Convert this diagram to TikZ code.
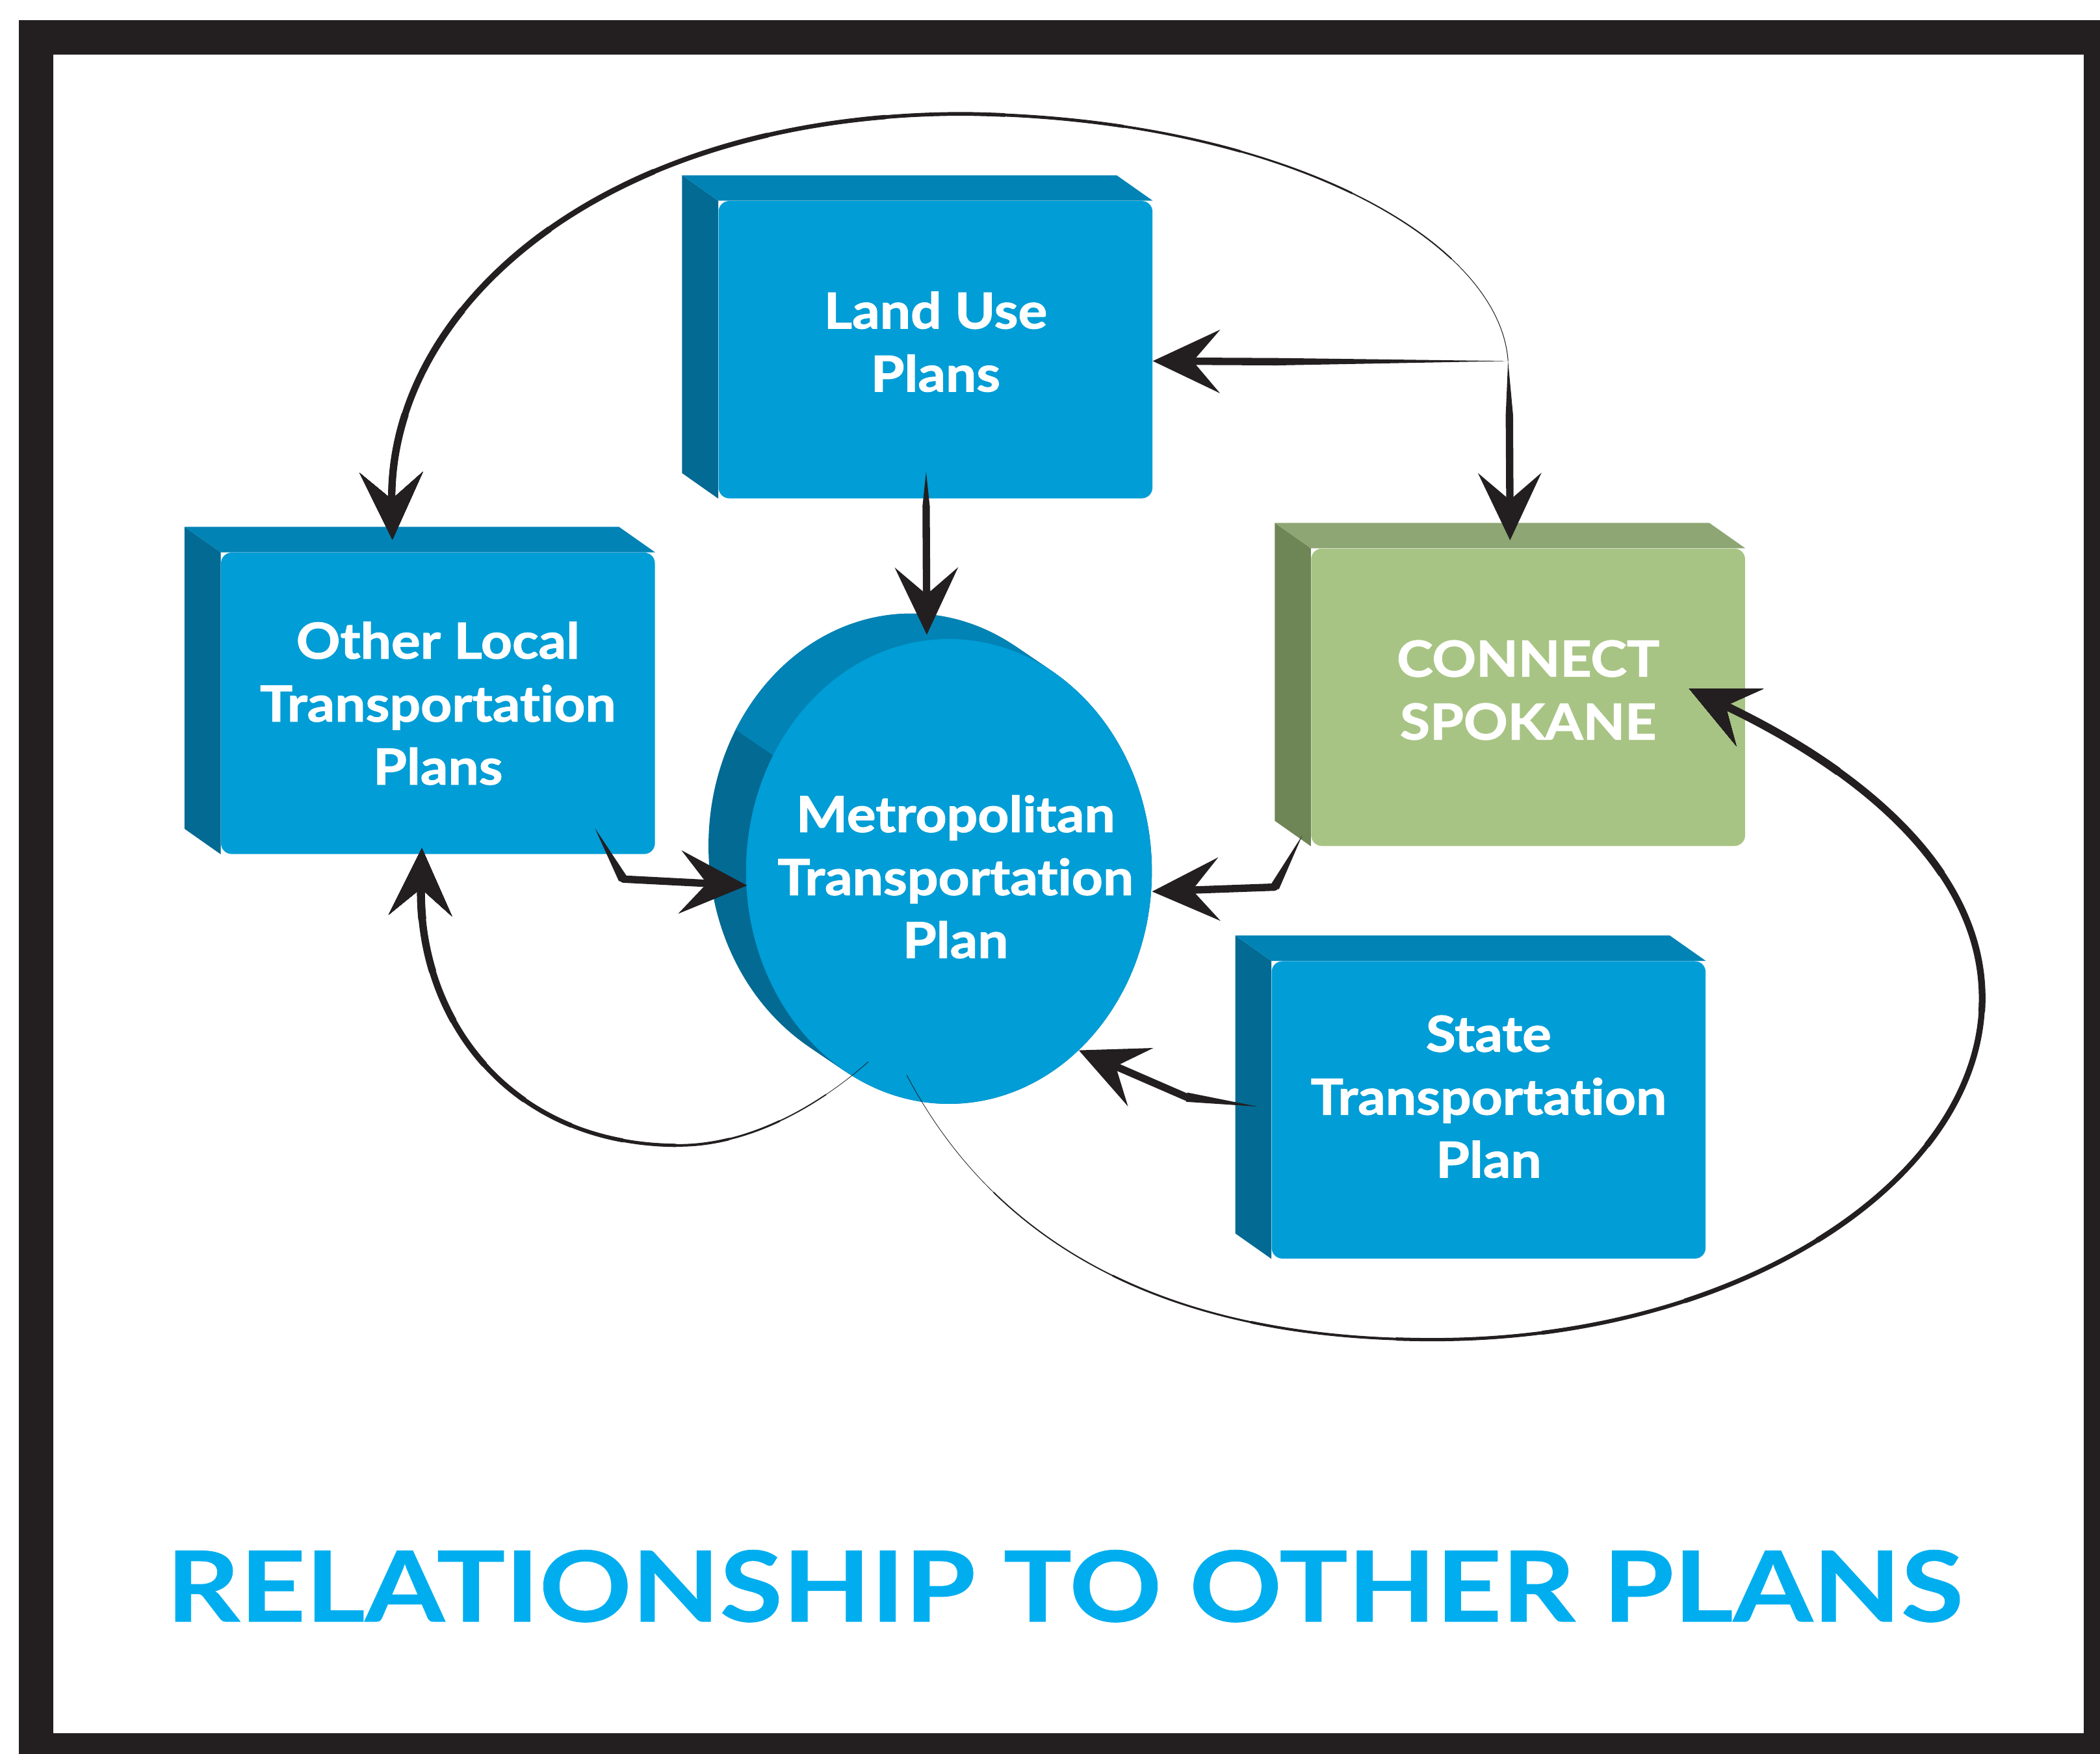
\documentclass[tikz,border=0pt]{standalone}
\usepackage{fontspec}
\setmainfont{Lato}
\newfontfamily\planfont{Lato}[Ligatures=NoCommon,FakeStretch=1.1,BoldFeatures={FakeBold=1.5}]
\newfontfamily\headfont{Lato}[FakeStretch=1.17,BoldFeatures={FakeBold=0.6}]
\usetikzlibrary{arrows.meta}
\usetikzlibrary{calc}
\usetikzlibrary{positioning}
\usetikzlibrary{shapes.geometric}

\definecolor{ink}{HTML}{231F20}
\definecolor{planblue}{HTML}{009DD6}
\definecolor{plantop}{HTML}{0283B5}
\definecolor{planside}{HTML}{026A93}
\definecolor{csgreen}{HTML}{A8C484}
\definecolor{cstop}{HTML}{8DA673}
\definecolor{csside}{HTML}{6E8556}
\definecolor{titleblue}{HTML}{00AEEF}

\pgfdeclarelayer{frame}
\pgfdeclarelayer{depth}
\pgfsetlayers{frame,depth,main}

% wedge that grows from a thin point to a full line
\newcommand\spike[3]{\fill[ink] (#1) -- ($(#2)!#3!90:(#1)$) -- ($(#2)!#3!-90:(#1)$) -- cycle;}
% curve that gets thicker towards its arrow
\newcommand\taperlink[4]{%
  \foreach \k in {0,...,11}{%
    \pgfmathsetmacro\wd{#3+(#4-#3)*\k/11}%
    \pgfmathsetmacro\ph{9999.9-#2*\k/12}%
    \draw[ink,->,line width=\wd pt,dash pattern=on 5000pt off 5000pt,dash phase=\ph pt] #1;%
  }}
% back faces of a box
\newcommand\depthbox[3]{%
  \fill[#3] (#1.north west) -- ++(-27,-19) -- ($(#1.south west)+(-27,-19)$) -- (#1.south west) -- cycle;
  \fill[#2] (#1.north west) -- ++(-27,-19) -- ($(#1.north east)+(-27,-19)$) -- (#1.north east) -- cycle;}

\begin{document}
\begin{tikzpicture}[x=1pt,y=-1pt,>={Stealth[length=50pt,width=47pt,inset=20pt]},
  plan/.style={rectangle,rounded corners=8pt,fill=planblue,text=white,align=center,
    minimum width=324pt,minimum height=222pt,font=\planfont\fontsize{37}{47}\selectfont\bfseries},
  connect/.style={plan,fill=csgreen},
  metro/.style={ellipse,fill=planblue,inner sep=0pt,minimum width=303pt,minimum height=347pt},
  metrotext/.style={text=white,align=center,font=\planfont\fontsize{37}{47}\selectfont\bfseries},
  link/.style={draw=ink,line width=5.5pt,line cap=round,->},
  heading/.style={text=titleblue,font=\headfont\fontsize{73}{80}\selectfont\bfseries}]
    \useasboundingbox (0,0) rectangle (1568,1309.3);
    \begin{pgfonlayer}{frame}
        \fill[ink] (14,15) rectangle (1568,1309.3);
        \fill[white] (40,41) rectangle (1556,1294);
    \end{pgfonlayer}

    % Place nodes
    \node[plan,text depth=12pt] (land) at (698.5,261) {Land Use\\Plans};
    \node[plan,minimum height=225pt] (other) at (327,525) {Other Local\\Transportation\\Plans};
    \node[connect,text depth=11pt] (conn) at (1141,520.5) {CONNECT\\SPOKANE};
    \node[plan,text depth=20pt] (state) at (1111.5,828.5) {State\\Transportation\\Plan};
    \node[metro,label={[metrotext,xshift=5pt,yshift=-4pt]center:Metropolitan\\Transportation\\Plan}] (mtp) at (708.5,650.5) {};
    \node[heading] (title) at (795,1184) {RELATIONSHIP TO OTHER PLANS};
    \coordinate (hub) at (1126,269.5);

    \begin{pgfonlayer}{depth}
        \depthbox{land}{plantop}{planside}
        \depthbox{other}{plantop}{planside}
        \depthbox{conn}{cstop}{csside}
        \depthbox{state}{plantop}{planside}
        \foreach \k in {20,...,0}
            \fill[planside] ($(mtp.center)+(-1.4*\k,-0.95*\k)$) ellipse [x radius=151.5pt, y radius=173.5pt];
        \begin{scope}
            \clip (437.5,468.75) -- (857.5,753.75) -- (900,753) -- (900,400) -- (437.5,400) -- cycle;
            \foreach \k in {20,...,0}
                \fill[plantop] ($(mtp.center)+(-1.4*\k,-0.95*\k)$) ellipse [x radius=151.5pt, y radius=173.5pt];
        \end{scope}
    \end{pgfonlayer}

    % Connectors
    \spike{$(land.south)+(-7,-20)$}{$(land.south)+(-7,6)$}{2.75pt}
    \draw[link] ($(land.south)+(-7,6)$) -- ($(mtp.north)+(-16.5,-3)$);

    \spike{hub}{953,270}{2.75pt}
    \draw[link] (953,270) -- (hub -| land.east);
    \spike{hub}{1127,310}{2.75pt}
    \draw[link] (1127,310) -- ($(conn.north)+(-13.5,-6)$);

    \spike{$(other.south east)+(-45,-19.5)$}{$(other.south east)+(-24,18.5)$}{3.5pt}
    \draw[link] ($(other.south east)+(-24,18.5)$) -- ($(mtp.west)+(1,10.5)$);

    \spike{$(conn.south west)+(-6.5,-8)$}{$(conn.south west)+(-27,30.5)$}{3.5pt}
    \draw[link] ($(conn.south west)+(-27,30.5)$) -- ($(mtp.east)+(0,15)$);

    \spike{$(state.west)+(-10.5,-2.5)$}{886,819}{3.5pt}
    \draw[link] (886,819) -- (mtp.-54);

    \taperlink{(hub) .. controls (1120,180) and (960,88) .. (720,85)
        .. controls (450,85) and (290,230) .. ($(other.north)+(-34,-9.5)$)}{1070}{0.5}{5.5}
    \taperlink{($(mtp.center)+(-60,142)$) .. controls (600,835) and (550,855) .. (507,855)
        .. controls (380,855) and (312,760) .. ($(other.south)+(-12,-4.5)$)}{480}{0.4}{6}
    \taperlink{($(mtp.center)+(-31.5,152)$) .. controls (760,960) and (920,1000) .. (1070,1000)
        .. controls (1300,1000) and (1480,880) .. (1480,745)
        .. controls (1480,650) and (1390,575) .. ($(conn.east)+(-42,-6.5)$)}{1310}{0.4}{6}
\end{tikzpicture}
\end{document}
